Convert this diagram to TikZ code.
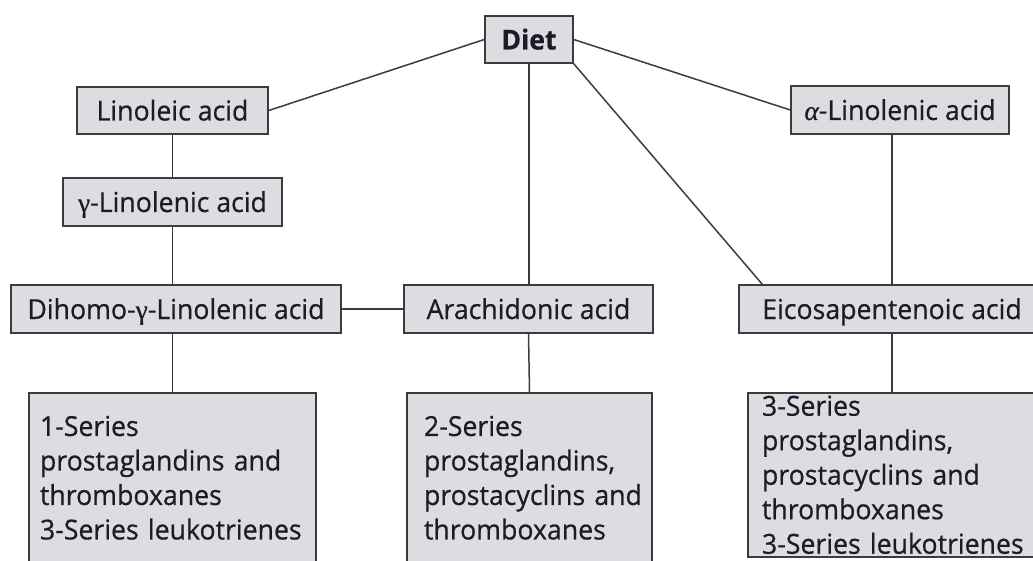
\documentclass[tikz,border=0pt]{standalone}
\usepackage{fontspec}
\setmainfont{Open Sans}[FakeBold=0.6,FakeStretch=0.97]
\newfontfamily\grk{Liberation Serif}[FakeBold=0.6]
\definecolor{boxfill}{RGB}{220,221,224}
\definecolor{boxline}{RGB}{60,60,62}
\definecolor{txt}{RGB}{28,28,40}
\begin{document}
\begin{tikzpicture}[x=1pt,y=-1pt,
  box/.style={draw=boxline,line width=1.5pt,fill=boxfill,inner sep=0pt,
    text=txt,font=\fontsize{27.5}{34.5}\selectfont,text height=20pt,text depth=0pt},
  bigbox/.style={draw=boxline,line width=1.5pt,fill=boxfill,anchor=north,
    text=txt,font=\fontsize{27.5}{34.5}\selectfont,align=left,inner ysep=0pt,
    minimum height=170pt},
  link/.style={draw=boxline,line width=1.5pt}]
\useasboundingbox (0,0) rectangle (1033,561);
\clip (0,0) rectangle (1033,561);
\node[box,minimum width=88pt,minimum height=47pt,font=\fontsize{27.5}{34.5}\selectfont\bfseries] (diet) at (529,39.5) {Diet};
\node[box,minimum width=191pt,minimum height=47pt] (lin) at (172.5,110.5) {Linoleic acid};
\node[box,minimum width=219pt,minimum height=48pt] (gam) at (172.5,202) {{\grk γ}-Linolenic acid};
\node[box,minimum width=330pt,minimum height=48pt] (dih) at (176,309) {Dihomo-{\grk γ}-Linolenic acid};
\node[box,minimum width=249pt,minimum height=48pt] (ara) at (528.5,309) {Arachidonic acid};
\node[box,minimum width=218pt,minimum height=48pt] (alin) at (900,110) {{\grk\itshape α}-Linolenic acid};
\node[box,minimum width=306pt,minimum height=48pt] (eic) at (892,309) {Eicosapentenoic acid};
\node[bigbox,inner xsep=11pt,text width=265pt] (s1) at (172.5,392)
  {\mbox{1-Series}\\\mbox{prostaglandins and}\\\mbox{thromboxanes}\\\mbox{3-Series leukotrienes}};
\node[bigbox,inner xsep=17pt,text width=211pt] (s2) at (529.5,392)
  {\mbox{2-Series}\\\mbox{prostaglandins,}\\\mbox{prostacyclins and}\\\mbox{thromboxanes}};
\node[bigbox,inner xsep=14pt,text width=260pt,minimum height=164pt] (s3) at (892,392)
  {\mbox{3-Series}\\\mbox{prostaglandins,}\\\mbox{prostacyclins and}\\\mbox{thromboxanes}\\\mbox{3-Series leukotrienes}};
\coordinate (eicin) at ([xshift=24pt]eic.north west);
\draw[link] (diet.west) -- (lin.east);
\draw[link] (diet.east) -- (alin.west);
\draw[link] (diet.south) -- (diet.south |- ara.north);
\draw[link] (diet.south east) -- (eicin);
\draw[link] (lin.south) -- (gam.north);
\draw[link] (gam.south) -- (gam.south |- dih.north);
\draw[link] (dih.east) -- (ara.west);
\draw[link] (s1.north |- dih.south) -- (s1.north);
\draw[link] (ara.south) -- (s2.north);
\draw[link] (eic.north |- alin.south) -- (eic.north);
\draw[link] (eic.south) -- (s3.north);
\end{tikzpicture}
\end{document}
